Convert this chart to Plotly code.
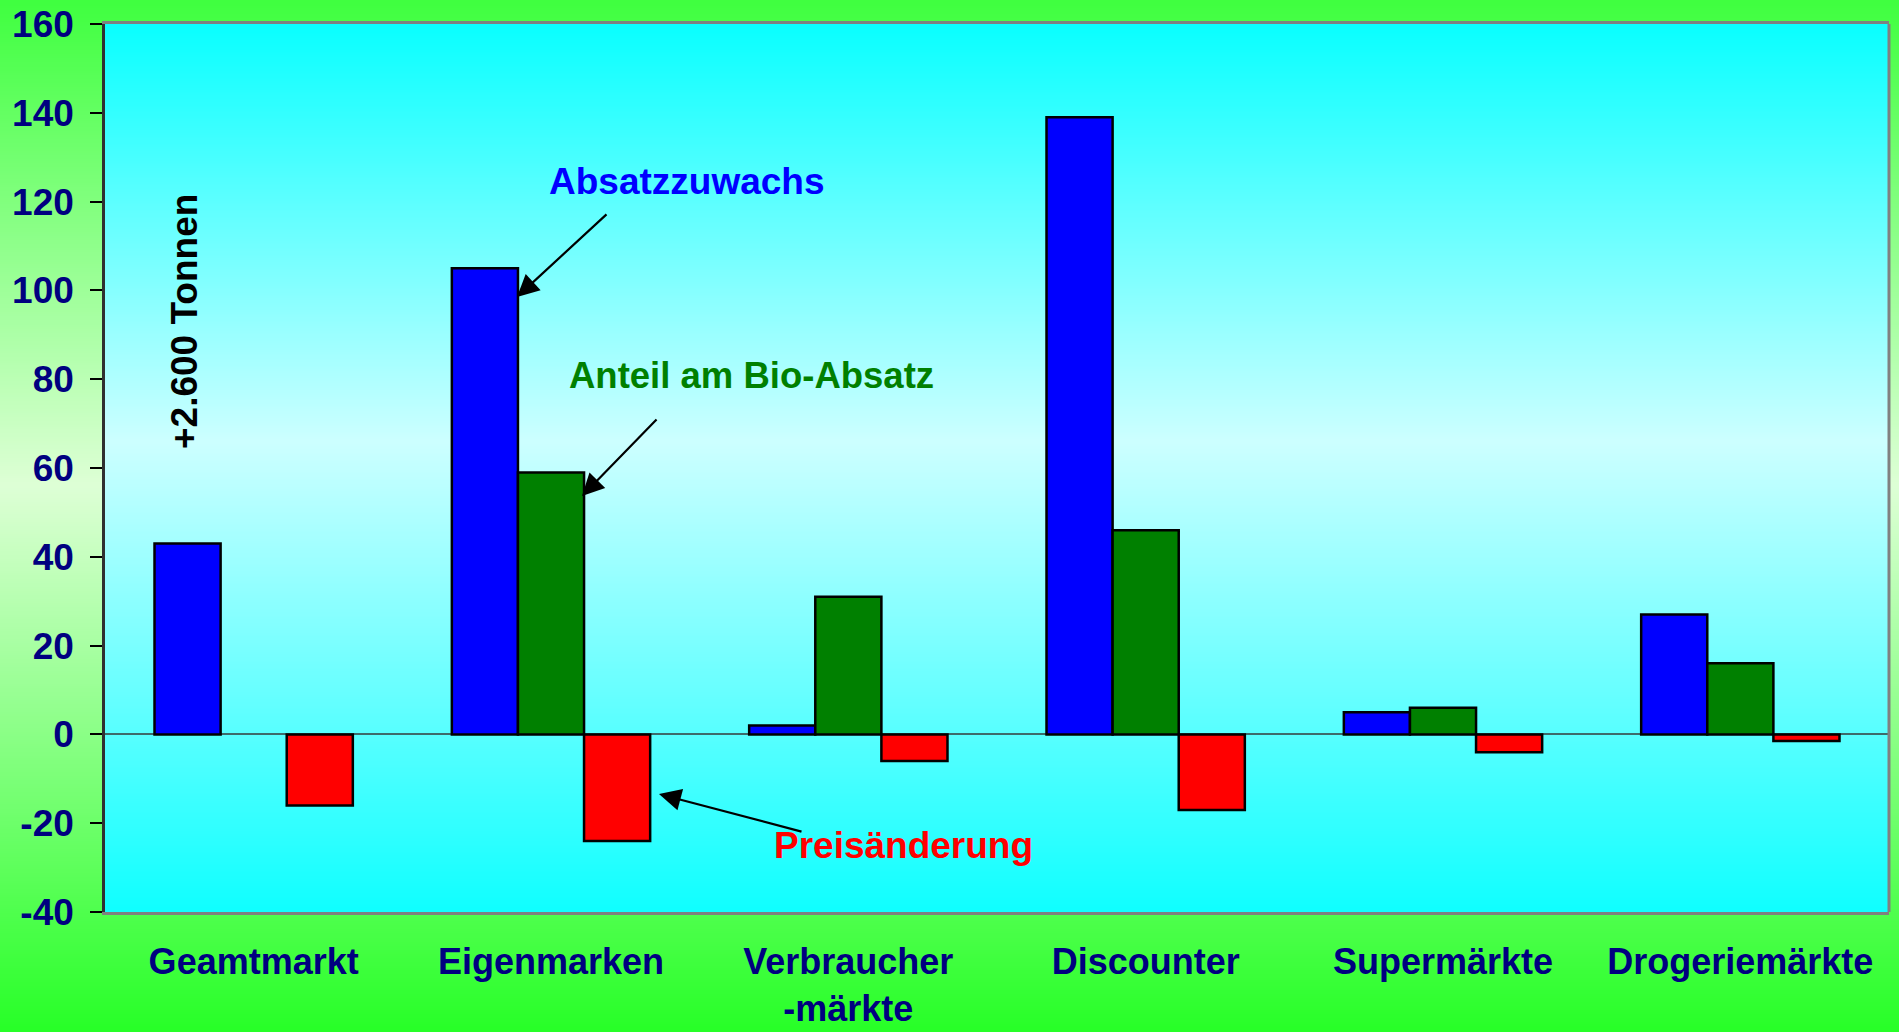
import base64, struct, zlib
import plotly.graph_objects as go

categories = ["Geamtmarkt", "Eigenmarken", "Verbraucher<br>-märkte", "Discounter", "Supermärkte", "Drogeriemärkte"]
absatzzuwachs = [43, 105, 2, 139, 5, 27]
anteil_bio = [None, 59, 31, 46, 6, 16]
preisaenderung = [-16, -24, -6, -17, -4, -1.5]
y_ticks = [-40, -20, 0, 20, 40, 60, 80, 100, 120, 140, 160]

W, H = 1899, 1032
ML, MR, MT, MB = 105, 10, 24, 120
PW, PH = W - ML - MR, H - MT - MB
FONT = "Liberation Sans, Arial, sans-serif"


def lerp(c1, c2, t):
    return tuple(int(round(a + (b - a) * t)) for a, b in zip(c1, c2))


def gradient(stops, n=256):
    rows = []
    for i in range(n):
        f = i / (n - 1)
        for j in range(len(stops) - 1):
            p0, c0 = stops[j]
            p1, c1 = stops[j + 1]
            if p0 <= f <= p1:
                rows.append(lerp(c0, c1, (f - p0) / (p1 - p0) if p1 > p0 else 0))
                break
    return rows


def png_uri(rows, w=4):
    h = len(rows)
    raw = b"".join(b"\x00" + bytes(c) * w for c in rows)

    def chunk(t, d):
        return struct.pack(">I", len(d)) + t + d + struct.pack(">I", zlib.crc32(t + d) & 0xFFFFFFFF)

    png = (b"\x89PNG\r\n\x1a\n" + chunk(b"IHDR", struct.pack(">IIBBBBB", w, h, 8, 2, 0, 0, 0))
           + chunk(b"IDAT", zlib.compress(raw)) + chunk(b"IEND", b""))
    return "data:image/png;base64," + base64.b64encode(png).decode()


paper_grad = png_uri(gradient([(0.0, (64, 255, 64)), (0.47, (222, 255, 214)), (1.0, (40, 255, 40))]))
plot_grad = png_uri(gradient([(0.0, (10, 255, 255)), (0.47, (205, 255, 255)), (1.0, (16, 255, 255))]))

fig = go.Figure()
line = dict(color="black", width=2.5)
fig.add_trace(go.Bar(x=categories, y=absatzzuwachs, name="Absatzzuwachs",
                     marker=dict(color="#0000ff", line=line)))
fig.add_trace(go.Bar(x=categories, y=anteil_bio, name="Anteil am Bio-Absatz",
                     marker=dict(color="#008000", line=line)))
fig.add_trace(go.Bar(x=categories, y=preisaenderung, name="Preisänderung",
                     marker=dict(color="#ff0000", line=line)))


def px(xp):
    return (xp - ML) / PW


def py(yp):
    return (H - MB - yp) / PH


annotations = [
    dict(text="<b>Absatzzuwachs</b>", x=px(687), y=py(182), font=dict(color="#0000ff", size=37)),
    dict(text="<b>Anteil am Bio-Absatz</b>", x=px(751), y=py(375), font=dict(color="#008000", size=36.5)),
    dict(text="<b>Preisänderung</b>", x=px(903), y=py(845), font=dict(color="#ff0000", size=37)),
    dict(text="<b>+2.600 Tonnen</b>", x=px(184), y=py(322), textangle=-90, font=dict(color="black", size=37)),
]
for a in annotations:
    a.update(xref="paper", yref="paper", showarrow=False, xanchor="center", yanchor="middle")
    a["font"]["family"] = FONT

arrows = [((517, 297), (608, 213)), ((582, 496), (658, 418)), ((659, 794), (803, 832))]
for (hx, hy), (tx, ty) in arrows:
    annotations.append(dict(text="", xref="paper", yref="paper", x=px(hx), y=py(hy),
                            ax=tx - hx, ay=ty - hy, showarrow=True, arrowhead=2,
                            arrowsize=2, arrowwidth=2.2, arrowcolor="black", standoff=0))

fig.update_layout(
    width=W, height=H, autosize=False,
    margin=dict(l=ML, r=MR, t=MT, b=MB, pad=0, autoexpand=False),
    paper_bgcolor="#40ff40",
    plot_bgcolor="rgba(0,0,0,0)",
    barmode="group", bargap=0.333, bargroupgap=0,
    showlegend=False,
    font=dict(family=FONT),
    images=[
        dict(source=paper_grad, xref="paper", yref="paper", x=-ML / PW, y=1 + MT / PH,
             sizex=W / PW, sizey=H / PH, xanchor="left", yanchor="top",
             sizing="stretch", layer="below"),
        dict(source=plot_grad, xref="paper", yref="paper", x=0, y=1, sizex=1, sizey=1,
             xanchor="left", yanchor="top", sizing="stretch", layer="below"),
    ],
    xaxis=dict(type="category", showgrid=False, zeroline=False, ticks="", automargin=False,
               showline=True, linecolor="#808080", linewidth=3, mirror=True,
               tickfont=dict(size=36, color="#000080", family=FONT, weight="bold"),
               ticklabelstandoff=16),
    xaxis2=dict(overlaying="x", anchor="free", position=0.2, type="linear", automargin=False,
                range=[-0.5, len(categories) - 0.5],
                tickvals=[i + 0.5 for i in range(len(categories))],
                ticks="outside", ticklen=12, tickwidth=1.5, tickcolor="#335555",
                showticklabels=False, showgrid=False, zeroline=False, showline=False),
    yaxis=dict(range=[-40, 160], tickvals=y_ticks, ticktext=[str(v) for v in y_ticks],
               ticks="outside", ticklen=12, automargin=False,
               tickwidth=1.5, tickcolor="black", showgrid=False,
               zeroline=True, zerolinecolor="#3d6b6b", zerolinewidth=2,
               showline=True, linecolor="#303030", linewidth=2.5,
               tickfont=dict(size=37, color="#000080", family=FONT, weight="bold"),
               ticklabelstandoff=9),
    annotations=annotations,
    shapes=[dict(type="line", xref="paper", yref="paper", x0=1, x1=1, y0=0, y1=1,
                 line=dict(color="#808080", width=3))],
)

fig.write_html("out.html", config={"displayModeBar": False},
               post_script="document.body.style.margin='0';document.body.style.overflow='hidden';")
